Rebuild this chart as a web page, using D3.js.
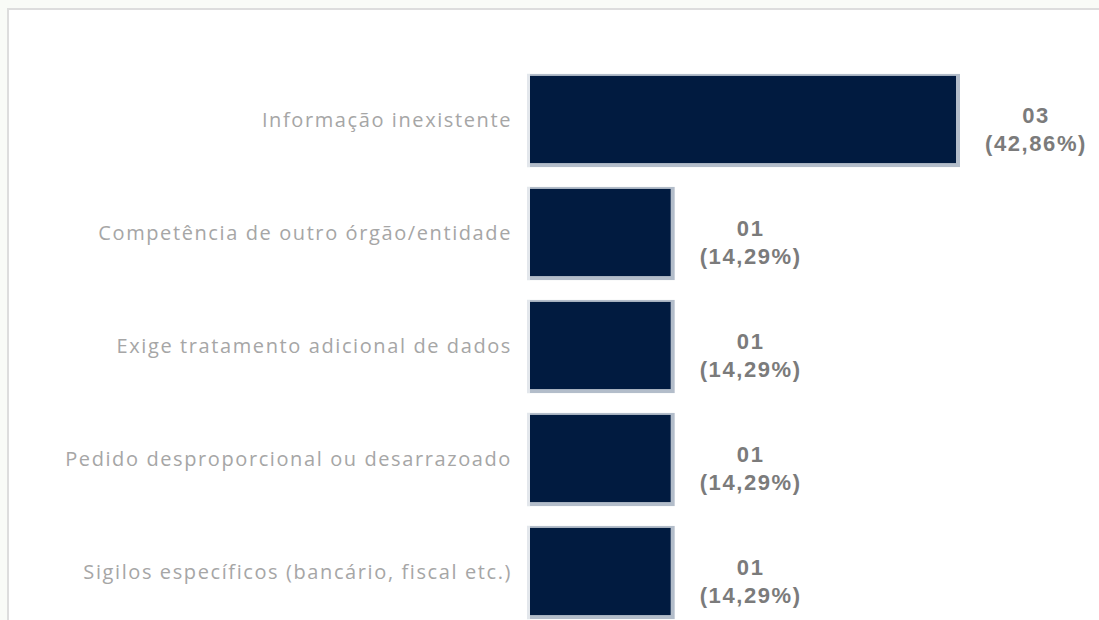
<!DOCTYPE html>
<html>
<head>
<meta charset="utf-8">
<script src="https://cdn.jsdelivr.net/npm/d3@7"></script>
<style>
  html, body { margin: 0; padding: 0; background: #f9fbf7; }
  svg { display: block; }
</style>
</head>
<body>
<div id="chart"></div>
<script>
// Motivos de negativa: quantidade e percentual
const categories = [
  'Informação inexistente',
  'Competência de outro órgão/entidade',
  'Exige tratamento adicional de dados',
  'Pedido desproporcional ou desarrazoado',
  'Sigilos específicos (bancário, fiscal etc.)'
];
const counts = [3, 1, 1, 1, 1];
const countLabels = ['03', '01', '01', '01', '01'];
const percentLabels = ['(42,86%)', '(14,29%)', '(14,29%)', '(14,29%)', '(14,29%)'];

(function () {
  const width = 1099;
  const height = 620;
  const barFill = '#011b40';
  const barEdge = '#b3bdca';
  const labelColor = '#a6a6a6';
  const valueColor = '#7b7b7b';

  const rows = categories.map((c, i) => ({
    category: c,
    value: counts[i],
    count: countLabels[i],
    pct: percentLabels[i]
  }));

  const svg = d3
    .select('#chart')
    .append('svg')
    .attr('width', width)
    .attr('height', height);

  // panel with light frame on top and left
  svg
    .append('rect')
    .attr('x', 8)
    .attr('y', 9)
    .attr('width', width - 8)
    .attr('height', height - 9)
    .attr('fill', '#ffffff');

  svg
    .append('path')
    .attr('d', `M8,${height} V9 H${width}`)
    .attr('fill', 'none')
    .attr('stroke', '#dddddd')
    .attr('stroke-width', 2);

  const x = d3.scaleLinear().domain([0, 3]).range([530, 958]);

  const y = d3
    .scaleBand()
    .domain(categories)
    .range([63.5, 628.5])
    .paddingInner(0.22)
    .paddingOuter(0.11);

  const g = svg.append('g');

  // soft outer edge behind each bar
  g.selectAll('rect.edge')
    .data(rows)
    .join('rect')
    .attr('class', 'edge')
    .attr('x', (d) => x(0) - 3)
    .attr('y', (d) => y(d.category) - 2)
    .attr('width', (d) => x(d.value) - x(0) + 5)
    .attr('height', y.bandwidth() + 5)
    .attr('fill', barEdge);

  g.selectAll('rect.edge-left')
    .data(rows)
    .join('rect')
    .attr('class', 'edge-left')
    .attr('x', (d) => x(0) - 3)
    .attr('y', (d) => y(d.category) - 2)
    .attr('width', 3)
    .attr('height', y.bandwidth() + 5)
    .attr('fill', '#e3e7ec');

  g.selectAll('rect.bar')
    .data(rows)
    .join('rect')
    .attr('class', 'bar')
    .attr('x', (d) => x(0))
    .attr('y', (d) => y(d.category))
    .attr('width', (d) => x(d.value) - x(0) - 2)
    .attr('height', y.bandwidth() - 1)
    .attr('fill', barFill);

  // category labels
  g.selectAll('text.cat')
    .data(rows)
    .join('text')
    .attr('class', 'cat')
    .attr('x', 512)
    .attr('y', (d) => y(d.category) + y.bandwidth() / 2 + 7)
    .attr('text-anchor', 'end')
    .attr('font-family', '"Open Sans", "Noto Sans", sans-serif')
    .attr('font-size', 20)
    .attr('letter-spacing', 1.6)
    .attr('fill', labelColor)
    .text((d) => d.category);

  // value labels, two lines
  const vals = g
    .selectAll('text.val')
    .data(rows)
    .join('text')
    .attr('class', 'val')
    .attr('text-anchor', 'middle')
    .attr('font-family', '"Liberation Sans", Arial, sans-serif')
    .attr('font-weight', 'bold')
    .attr('font-size', 22)
    .attr('letter-spacing', 1.6)
    .attr('fill', valueColor);

  vals
    .append('tspan')
    .attr('x', (d) => x(d.value) + 78)
    .attr('y', (d) => y(d.category) + y.bandwidth() / 2 + 3)
    .text((d) => d.count);

  vals
    .append('tspan')
    .attr('x', (d) => x(d.value) + 78)
    .attr('y', (d) => y(d.category) + y.bandwidth() / 2 + 31)
    .text((d) => d.pct);
})();
</script>
</body>
</html>
